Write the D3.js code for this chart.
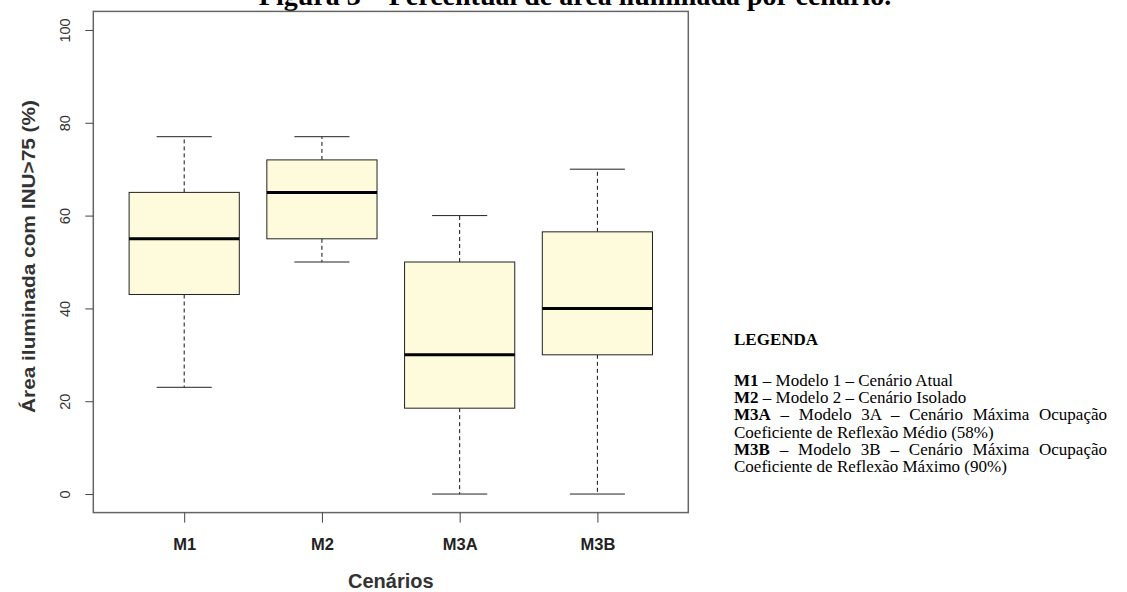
<!DOCTYPE html>
<html><head><meta charset="utf-8">
<script src="https://cdn.jsdelivr.net/npm/d3@7"></script>
<style>body{margin:0;background:#fff;}svg{display:block;}</style>
</head><body>
<svg id="c" width="1127" height="592"></svg>
<script>
const categories = ["M1", "M2", "M3A", "M3B"];
const whiskerLow = [23, 50, 0, 0];
const q1 = [43, 55, 18.5, 30];
const median = [55, 65, 30, 40];
const q3 = [65, 72, 50, 56.5];
const whiskerHigh = [77, 77, 60, 70];
const yTicks = [0, 20, 40, 60, 80, 100];
const legendLines = [
  {b: "M1", t: " – Modelo 1 – Cenário Atual", j: false},
  {b: "M2", t: " – Modelo 2 – Cenário Isolado", j: false},
  {b: "M3A", t: " – Modelo 3A – Cenário Máxima Ocupação", j: true},
  {b: "", t: "Coeficiente de Reflexão Médio (58%)", j: false},
  {b: "M3B", t: " – Modelo 3B – Cenário Máxima Ocupação", j: true},
  {b: "", t: "Coeficiente de Reflexão Máximo (90%)", j: false}
];

const svg = d3.select("#c");
const L = 93.3, R = 688.3, T = 11.4, B = 512.6;
const x = d3.scaleLinear().domain([0.34, 4.66]).range([L, R]);
const y = d3.scaleLinear().domain([-4, 104]).range([B, T]);

// title (cut off at top in the reference)
svg.append("text").attr("x", 575).attr("y", 4.5).attr("text-anchor", "middle")
  .attr("font-family", "Liberation Serif").attr("font-weight", "bold").attr("font-size", 28)
  .text("Figura 3 – Percentual de área iluminada por cenário.");

const data = categories.map((c, i) => ({c, i: i + 1, lo: whiskerLow[i], q1: q1[i], md: median[i], q3: q3[i], hi: whiskerHigh[i]}));
const g = svg.append("g");
data.forEach(d => {
  const cx = x(d.i);
  g.append("line").attr("x1", cx).attr("x2", cx).attr("y1", y(d.q3)).attr("y2", y(d.hi))
    .attr("stroke", "#111").attr("stroke-width", 1).attr("stroke-dasharray", "4,3");
  g.append("line").attr("x1", cx).attr("x2", cx).attr("y1", y(d.q1)).attr("y2", y(d.lo))
    .attr("stroke", "#111").attr("stroke-width", 1).attr("stroke-dasharray", "4,3");
  [d.lo, d.hi].forEach(v => g.append("line").attr("x1", x(d.i - 0.2)).attr("x2", x(d.i + 0.2))
    .attr("y1", y(v)).attr("y2", y(v)).attr("stroke", "#222").attr("stroke-width", 1));
  g.append("rect").attr("x", x(d.i - 0.4)).attr("width", x(d.i + 0.4) - x(d.i - 0.4))
    .attr("y", y(d.q3)).attr("height", y(d.q1) - y(d.q3))
    .attr("fill", "#fdfbdb").attr("stroke", "#222").attr("stroke-width", 1);
  g.append("line").attr("x1", x(d.i - 0.4)).attr("x2", x(d.i + 0.4))
    .attr("y1", y(d.md)).attr("y2", y(d.md)).attr("stroke", "#000").attr("stroke-width", 3);
});

// plot border
svg.append("rect").attr("x", L).attr("y", T).attr("width", R - L).attr("height", B - T)
  .attr("fill", "none").attr("stroke", "#666").attr("stroke-width", 1.5);

// y axis
const ya = svg.append("g").attr("transform", `translate(${L},0)`)
  .call(d3.axisLeft(y).tickValues(yTicks).tickSize(8).tickFormat(d3.format("d")));
ya.select(".domain").remove();
ya.selectAll(".tick line").attr("stroke", "#444");
ya.selectAll(".tick text").attr("font-family", "Liberation Sans").attr("font-size", 14.5)
  .attr("fill", "#333").attr("x", null).attr("dy", "0.35em").attr("text-anchor", "middle")
  .attr("transform", "translate(-28,0) rotate(-90)");

// x axis
const xa = svg.append("g").attr("transform", `translate(0,${B})`)
  .call(d3.axisBottom(x).tickValues([1, 2, 3, 4]).tickSize(10).tickFormat((d, i) => categories[i]));
xa.select(".domain").remove();
xa.selectAll(".tick line").attr("stroke", "#444");
xa.selectAll(".tick text").attr("font-family", "Liberation Sans").attr("font-weight", "bold")
  .attr("font-size", 16.5).attr("fill", "#222").attr("y", 37).attr("dy", 0);

// axis titles
svg.append("text").attr("x", (L + R) / 2).attr("y", 588).attr("text-anchor", "middle")
  .attr("font-family", "Liberation Sans").attr("font-weight", "bold").attr("font-size", 20)
  .attr("fill", "#333").text("Cenários");
svg.append("text").attr("transform", `translate(35,256.5) rotate(-90)`).attr("text-anchor", "middle")
  .attr("font-family", "Liberation Sans").attr("font-weight", "bold").attr("font-size", 19)
  .attr("textLength", 313).attr("lengthAdjust", "spacingAndGlyphs")
  .attr("fill", "#333").text("Área iluminada com INU>75 (%)");

// legend
const lx = 734, rx = 1107;
svg.append("text").attr("x", lx).attr("y", 345).attr("font-family", "Liberation Serif")
  .attr("font-weight", "bold").attr("font-size", 17).text("LEGENDA");
legendLines.forEach((ln, k) => {
  const yy = 386 + k * 17.2;
  const t = svg.append("text").attr("x", lx).attr("y", yy).attr("font-family", "Liberation Serif").attr("font-size", 17);
  if (ln.b) t.append("tspan").attr("font-weight", "bold").text(ln.b);
  t.append("tspan").text(ln.t);
  if (ln.j) {
    const w = t.node().getComputedTextLength();
    const words = (ln.b + ln.t).split(" ").length - 1;
    t.attr("word-spacing", (rx - lx - w) / words);
  }
});
</script>
</body></html>
